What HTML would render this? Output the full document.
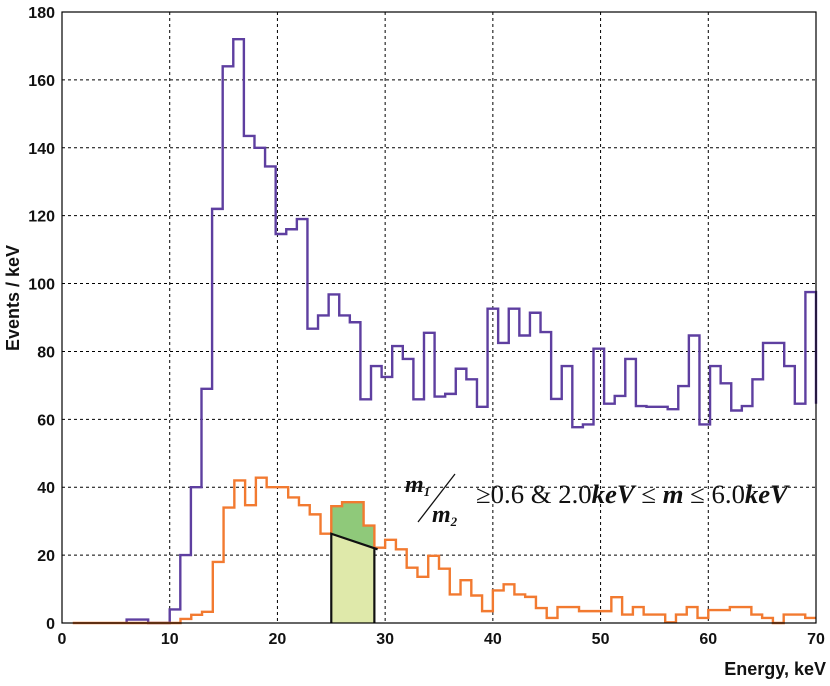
<!DOCTYPE html>
<html><head><meta charset="utf-8"><style>
body{margin:0;background:#fff;}
svg{display:block;font-family:"Liberation Sans",sans-serif;}
</style></head><body>
<svg id="chart" width="830" height="686"></svg>
<script>
const xTicks=[0,10,20,30,40,50,60,70];
const yTicks=[0,20,40,60,80,100,120,140,160,180];
const purpleLowStart=6, purpleLowEnd=8, purpleLowValue=1;
const purpleStart=10;
const purpleValues=[4,20,40,69,122,164,172,143.5,140,134.5,114.6,116,119,
86.7,90.6,96.8,90.6,88.6,65.9,75.7,72.5,81.6,77.8,65.9,85.5,66.7,67.5,74.9,71.8,63.7,
92.6,82.5,92.6,84.7,91.4,85.7,66,75.7,57.7,58.5,80.8,64.6,66.9,77.8,63.9,63.7,63.7,
63,69.8,84.7,58.5,75.7,70.6,62.6,63.9,71.8,82.5,82.5,75.7,64.6,97.5];
const purpleEnd=70;
const orangeStart=1, orangeBinStart=11;
const orangeValues=[1.2,2.4,3.3,18,34,42,34.7,42.8,40,40,37,34.7,32,26.3,
34.4,35.6,35.6,28.7,22.2,24.5,21.7,16.3,13.6,19.8,16,8.4,12.6,8.1,3.5,9.6,11.4,8.4,7.7,4.4,1.5,4.7,4.7,
3.5,3.5,3.5,7.6,2.5,4.7,2.5,2.5,0.2,2.5,4.7,1.5,3.8,3.8,4.7,4.7,2.5,1.5,0,2.5,2.5,1.5];
const bandStart=25, bandEnd=29, bandLowLeft=26.3, bandLowRight=22;

const L=62,R=816,T=12,B=623;
const X=v=>L+(v-0)/(70-0)*(R-L);
const Y=v=>B-(v/180)*(B-T);
const NS="http://www.w3.org/2000/svg";
const svg=document.getElementById('chart');
function mk(t,a,p){const e=document.createElementNS(NS,t);for(const k in a)e.setAttribute(k,a[k]);(p||svg).appendChild(e);return e;}

xTicks.slice(1,-1).forEach(t=>{const g=mk('line',{x1:X(t),x2:X(t),y1:T,y2:B,stroke:'#000','stroke-width':1,'stroke-dasharray':'3,3'});

});
yTicks.slice(1,-1).forEach(t=>{const g=mk('line',{x1:L,x2:R,y1:Y(t),y2:Y(t),stroke:'#000','stroke-width':1,'stroke-dasharray':'3,3'});

});

function orangeAt(i){return orangeValues[i-orangeBinStart];}
let dp=`M${X(bandStart)},${Y(bandLowLeft)}`;
for(let e=bandStart;e<bandEnd;e++){dp+=` L${X(e)},${Y(orangeAt(e))} L${X(e+1)},${Y(orangeAt(e))}`;}
dp+=` L${X(bandEnd)},${Y(bandLowRight)} Z`;
const dg=mk('path',{d:dp,fill:'#8fc97a'});


const lg=mk('path',{d:`M${X(bandStart)},${Y(0)} L${X(bandStart)},${Y(bandLowLeft)} L${X(bandEnd)},${Y(bandLowRight)} L${X(bandEnd)},${Y(0)} Z`,fill:'#dfe9aa'});



let pp=`M${X(purpleLowStart)},${Y(0)} L${X(purpleLowStart)},${Y(purpleLowValue)} L${X(purpleLowEnd)},${Y(purpleLowValue)} L${X(purpleLowEnd)},${Y(0)} L${X(purpleStart)},${Y(0)}`;
const pw=(purpleEnd-purpleStart)/purpleValues.length;
purpleValues.forEach((v,i)=>{const a=purpleStart+i*pw;pp+=` L${X(a)},${Y(v)} L${X(a+pw)},${Y(v)}`;});
pp+=` L${X(purpleEnd)},${Y(64.6)}`;
const pl=mk('path',{d:pp,fill:'none',stroke:'#5e3fa0','stroke-width':2.4});



let op=`M${X(orangeStart)},${Y(0)} L${X(orangeBinStart)},${Y(0)}`;
orangeValues.forEach((v,i)=>{const a=orangeBinStart+i;op+=` L${X(a)},${Y(v)} L${X(Math.min(a+1,70))},${Y(v)}`;});
const ol=mk('path',{d:op,fill:'none',stroke:'#f27a30','stroke-width':2.4});



const bo=mk('path',{d:`M${X(bandStart)},${Y(0)} L${X(bandStart)},${Y(bandLowLeft)} L${X(bandEnd+0.3)},${Y(bandLowRight-0.3)} M${X(bandEnd)},${Y(bandLowRight)} L${X(bandEnd)},${Y(0)}`,fill:'none',stroke:'#111','stroke-width':2.2});



const fr=mk('rect',{x:L,y:T,width:R-L,height:B-T,fill:'none',stroke:'#000','stroke-width':1.2});



xTicks.forEach(t=>{const e=mk('text',{x:X(t),y:644,'text-anchor':'middle','font-size':16,'font-weight':'bold',fill:'#111'});e.textContent=t;

});
yTicks.forEach(t=>{const e=mk('text',{x:55,y:Y(t)+6,'text-anchor':'end','font-size':16,'font-weight':'bold',fill:'#111'});e.textContent=t;

});
</script>
<svg width="830" height="686" style="position:absolute;left:0;top:0;font-family:'Liberation Sans',sans-serif">
<text x="826" y="675" text-anchor="end" font-size="18" font-weight="bold" fill="#111">Energy, keV</text>
<text transform="translate(19,298) rotate(-90)" text-anchor="middle" font-size="18" font-weight="bold" fill="#111">Events / keV</text>
<g font-family="'Liberation Serif',serif" font-weight="bold" font-style="italic" fill="#111">
<text x="405" y="492" font-size="24">m<tspan font-size="13" dy="4">1</tspan></text>
<line x1="418" y1="522" x2="455" y2="474" stroke="#111" stroke-width="1.3"/>
<text x="432" y="522" font-size="24">m<tspan font-size="13" dy="4">2</tspan></text>
<text x="476" y="503" font-size="26" font-weight="normal" font-style="normal" textLength="312" lengthAdjust="spacingAndGlyphs">≥0.6 &amp; 2.0<tspan font-weight="bold" font-style="italic">keV</tspan> ≤ <tspan font-weight="bold" font-style="italic">m</tspan> ≤ 6.0<tspan font-weight="bold" font-style="italic">keV</tspan></text>
</g>
</svg>
</body></html>
